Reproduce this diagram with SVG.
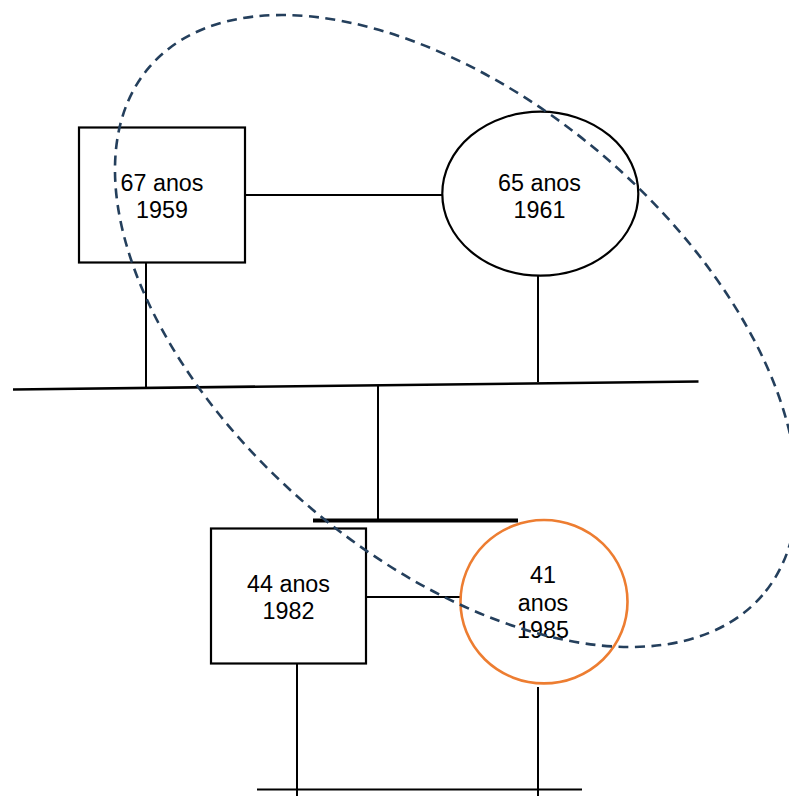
<svg xmlns="http://www.w3.org/2000/svg" width="789" height="796" viewBox="0 0 789 796">
<style>
.ln{stroke:#000;stroke-width:2;fill:none}
.nd{stroke:#000;stroke-width:2.2;fill:#fff}
.t{font-family:"Liberation Sans",Arial,sans-serif;font-size:23.3px;fill:#000;text-anchor:middle}
</style>
<rect width="789" height="796" fill="#fff"/>
<g id="connectors">
<line class="ln" x1="245" y1="195" x2="442" y2="195"/>
<line class="ln" x1="146" y1="262" x2="146" y2="389"/>
<line class="ln" x1="538" y1="275" x2="538" y2="382"/>
<line class="ln" x1="13" y1="389.5" x2="698.5" y2="381.5" style="stroke-width:2.6"/>
<line class="ln" x1="378" y1="385" x2="378" y2="520"/>
<line class="ln" x1="313" y1="520.5" x2="518" y2="520.5" style="stroke-width:4.2"/>
<line class="ln" x1="366" y1="597" x2="460" y2="597"/>
<line class="ln" x1="297" y1="664" x2="297" y2="796"/>
<line class="ln" x1="538" y1="687" x2="538" y2="796"/>
<line class="ln" x1="257" y1="789.5" x2="582" y2="789.5"/>
</g>
<g id="n1">
<rect class="nd" x="79" y="127.5" width="166" height="135"/>
<text class="t" x="162" y="190.5">67 anos</text>
<text class="t" x="162" y="218">1959</text>
</g>
<g id="n2">
<ellipse class="nd" cx="540.3" cy="193.7" rx="98" ry="82"/>
<text class="t" x="539.5" y="190.5">65 anos</text>
<text class="t" x="539.5" y="218">1961</text>
</g>
<g id="n3">
<rect class="nd" x="211" y="528.5" width="155" height="135"/>
<text class="t" x="288.5" y="591.5">44 anos</text>
<text class="t" x="288.5" y="619">1982</text>
</g>
<g id="n4">
<ellipse cx="544" cy="601.7" rx="83.5" ry="81.7" fill="#fff" stroke="#ED7D31" stroke-width="2.6"/>
<text class="t" x="543" y="583">41</text>
<text class="t" x="543" y="610.5">anos</text>
<text class="t" x="543" y="638">1985</text>
</g>
<g id="group-outline">
<ellipse cx="456" cy="331" rx="404.6" ry="229" transform="rotate(40.75 456 331)" fill="none" stroke="#243F5C" stroke-width="2.6" stroke-dasharray="10 6.5"/>
</g>
</svg>
